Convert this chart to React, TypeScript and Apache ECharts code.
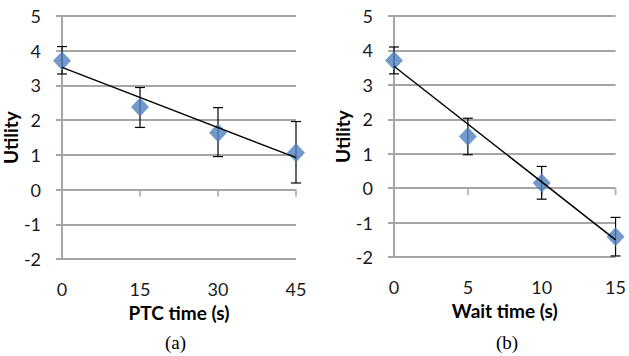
import React, { useEffect, useRef } from "react";
import * as echarts from "echarts";

const ptcX = [0, 15, 30, 45];
const ptcY = [3.71, 2.38, 1.64, 1.06];
const ptcHi = [4.12, 2.94, 2.36, 1.96];
const ptcLo = [3.33, 1.79, 0.95, 0.19];
const ptcTrend = [3.52, 0.92];
const ptcTicks = [15, 30, 45];

const waitX = [0, 5, 10, 15];
const waitY = [3.71, 1.5, 0.15, -1.41];
const waitHi = [4.1, 2.03, 0.63, -0.85];
const waitLo = [3.32, 0.97, -0.32, -1.97];
const waitTrend = [3.54, -1.5];
const waitTicks = [5, 10, 15];

const yMin = -2;
const yMax = 5;

const GRID_C = "#a6a6a6";
const BLUE = "#4f81bd";
const FONT = "Lato, 'Open Sans', sans-serif";

function errRender(params: any, api: any) {
  const x = api.value(0);
  const lo = api.value(1);
  const hi = api.value(2);
  const a = api.coord([x, hi]);
  const b = api.coord([x, lo]);
  const w = 5;
  const st = { stroke: "#000", lineWidth: 1.2 };
  return {
    type: "group",
    children: [
      { type: "line", shape: { x1: a[0], y1: a[1], x2: b[0], y2: b[1] }, style: st },
      { type: "line", shape: { x1: a[0] - w, y1: a[1], x2: a[0] + w, y2: a[1] }, style: st },
      { type: "line", shape: { x1: b[0] - w, y1: b[1], x2: b[0] + w, y2: b[1] }, style: st },
    ],
  };
}

function makeY(gridIndex: number) {
  return {
    type: "value",
    gridIndex,
    min: yMin,
    max: yMax,
    interval: 1,
    name: "Utility",
    nameLocation: "middle",
    nameGap: 38,
    nameRotate: 90,
    nameTextStyle: { fontFamily: FONT, fontSize: 19, fontWeight: "bold", color: "#000" },
    axisLine: { show: true, lineStyle: { color: GRID_C, width: 2 } },
    axisTick: { show: true, length: 6, lineStyle: { color: GRID_C, width: 2 } },
    axisLabel: { fontFamily: FONT, fontSize: 18, color: "#1a1a1a", margin: 21 },
    splitLine: { show: true, lineStyle: { color: GRID_C, width: 2 } },
  };
}

function makeX(gridIndex: number, max: number, interval: number, name: string) {
  return {
    type: "value",
    gridIndex,
    min: 0,
    max,
    interval,
    position: "bottom",
    name,
    nameLocation: "middle",
    nameGap: 42,
    nameTextStyle: { fontFamily: FONT, fontSize: 19, fontWeight: "bold", color: "#000" },
    axisLine: { show: false, onZero: false },
    axisTick: { show: false },
    axisLabel: { fontFamily: FONT, fontSize: 18, color: "#1a1a1a", margin: 21 },
    splitLine: { show: false },
  };
}

export default function App() {
  const ref = useRef<HTMLDivElement>(null);
  useEffect(() => {
    if (!ref.current) return;
    const chart = echarts.init(ref.current, null, { renderer: "svg" });
    const ptcScatter = ptcX.map((x, i) => [x, ptcY[i]]);
    const waitScatter = waitX.map((x, i) => [x, waitY[i]]);
    const ptcErr = ptcX.map((x, i) => [x, ptcLo[i], ptcHi[i]]);
    const waitErr = waitX.map((x, i) => [x, waitLo[i], waitHi[i]]);
    const mkSeries = (ax: number, sc: any[], err: any[], xs: number[], tr: number[], ticks: number[]) => [
      {
        type: "scatter",
        xAxisIndex: ax,
        yAxisIndex: ax,
        symbol: "rect",
        symbolSize: [2, 7],
        symbolOffset: [0, 3.5],
        itemStyle: { color: GRID_C },
        data: ticks.map((t) => [t, 0]),
        clip: false,
        silent: true,
        z: 1,
      },
      {
        type: "custom",
        xAxisIndex: ax,
        yAxisIndex: ax,
        renderItem: errRender,
        encode: { x: 0, y: [1, 2] },
        data: err,
        z: 2,
      },
      {
        type: "scatter",
        xAxisIndex: ax,
        yAxisIndex: ax,
        symbol: "diamond",
        symbolSize: [18, 19],
        itemStyle: { color: BLUE },
        data: sc,
        z: 3,
      },
      {
        type: "line",
        xAxisIndex: ax,
        yAxisIndex: ax,
        showSymbol: false,
        symbol: "none",
        lineStyle: { color: "#000", width: 1.5 },
        data: [
          [xs[0], tr[0]],
          [xs[xs.length - 1], tr[1]],
        ],
        z: 4,
      },
    ];
    chart.setOption({
      animation: false,
      backgroundColor: "#fff",
      grid: [
        { left: 62, top: 16, width: 234, height: 243 },
        { left: 394, top: 16, width: 223, height: 241 },
      ],
      xAxis: [makeX(0, 45, 15, "PTC time (s)"), makeX(1, 15, 5, "Wait time (s)")],
      yAxis: [makeY(0), makeY(1)],
      series: [
        ...mkSeries(0, ptcScatter, ptcErr, ptcX, ptcTrend, ptcTicks),
        ...mkSeries(1, waitScatter, waitErr, waitX, waitTrend, waitTicks),
      ],
      graphic: [
        {
          type: "text",
          left: 165,
          top: 333,
          style: { text: "(a)", font: "19px 'Liberation Serif', serif", fill: "#000" },
        },
        {
          type: "text",
          left: 496,
          top: 333,
          style: { text: "(b)", font: "19px 'Liberation Serif', serif", fill: "#000" },
        },
      ],
    });
    return () => chart.dispose();
  }, []);
  return (
    <div
      ref={ref}
      style={{ position: "fixed", left: 0, top: 0, width: 629, height: 356 }}
    />
  );
}
